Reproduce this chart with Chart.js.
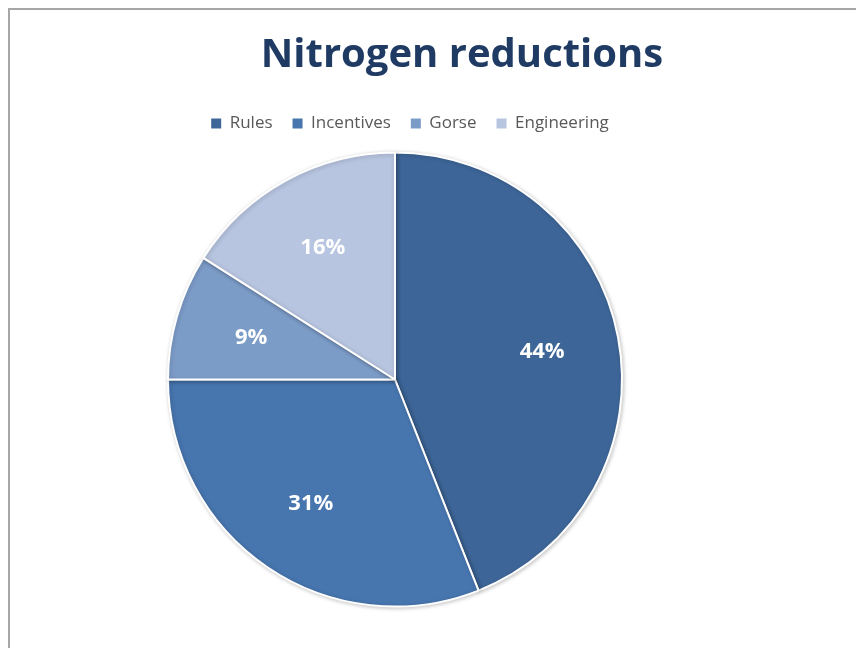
<!DOCTYPE html>
<html>
<head>
<meta charset="utf-8">
<script src="https://cdn.jsdelivr.net/npm/chart.js@4/dist/chart.umd.min.js"></script>
<style>
  body { margin: 0; background: #fff; }
  #frame {
    position: absolute; left: 8px; top: 8px; width: 860px; height: 660px;
    border-left: 2px solid #a6a6a6; border-top: 2px solid #a6a6a6;
  }
  #wrap { position: absolute; left: 0; top: 0; width: 856px; height: 648px; }
</style>
</head>
<body>
<div id="frame"></div>
<div id="wrap"><canvas id="pie"></canvas></div>
<script>
// ข้อมูลของแผนภูมิ
const labels = ['Rules', 'Incentives', 'Gorse', 'Engineering'];
const values = [44, 31, 9, 16]; // เปอร์เซ็นต์
const colors = ['#3d6597', '#4775ae', '#7c9cc8', '#b8c5e0'];

// เลื่อนหัวเรื่องและคำอธิบายให้ตรงกับภาพต้นฉบับ
const shiftBoxes = {
  id: 'shiftBoxes',
  afterLayout(chart) {
    chart.titleBlock.left += 67; chart.titleBlock.right += 67;
    chart.legend.left += 15; chart.legend.right += 15;
  }
};

// เงาและตัวเลขเปอร์เซ็นต์บนชิ้นพาย
const sliceLabels = {
  id: 'sliceLabels',
  beforeDatasetsDraw(chart) {
    const ctx = chart.ctx;
    ctx.save();
    ctx.shadowColor = 'rgba(0,0,0,0.22)';
    ctx.shadowBlur = 4;
    ctx.shadowOffsetX = 1;
    ctx.shadowOffsetY = 1;
  },
  afterDatasetsDraw(chart) {
    const ctx = chart.ctx;
    ctx.restore();
    const meta = chart.getDatasetMeta(0);
    ctx.save();
    ctx.fillStyle = '#ffffff';
    ctx.font = 'bold 22px "Open Sans"';
    ctx.textAlign = 'center';
    ctx.textBaseline = 'middle';
    meta.data.forEach(function(arc, i) {
      const p = arc.getProps(['x', 'y', 'startAngle', 'endAngle', 'outerRadius'], true);
      const mid = (p.startAngle + p.endAngle) / 2;
      const r = p.outerRadius * 0.66;
      ctx.fillText(values[i] + '%', p.x + Math.cos(mid) * r, p.y + Math.sin(mid) * r);
    });
    ctx.restore();
  }
};

new Chart(document.getElementById('pie'), {
  type: 'pie',
  data: {
    labels: labels,
    datasets: [{
      data: values,
      backgroundColor: colors,
      borderColor: '#ffffff',
      borderWidth: 2
    }]
  },
  options: {
    responsive: true,
    maintainAspectRatio: false,
    animation: false,
    radius: 227,
    layout: { padding: { left: 0, right: 66, top: 0, bottom: 31 } },
    plugins: {
      title: {
        display: true,
        text: 'Nitrogen reductions',
        color: '#1f3b63',
        font: { family: 'Open Sans', size: 40, weight: 'bold' },
        padding: { top: 32, bottom: 15 }
      },
      legend: {
        position: 'top',
        labels: {
          color: '#595959',
          font: { family: 'Open Sans', size: 17 },
          boxWidth: 10,
          boxHeight: 10,
          padding: 20,
          generateLabels(chart) {
            const items = Chart.overrides.pie.plugins.legend.labels.generateLabels(chart);
            items.forEach(function(it) { it.lineWidth = 0; it.strokeStyle = it.fillStyle; });
            return items;
          }
        }
      },
      tooltip: { enabled: false }
    }
  },
  plugins: [shiftBoxes, sliceLabels]
});
</script>
</body>
</html>
